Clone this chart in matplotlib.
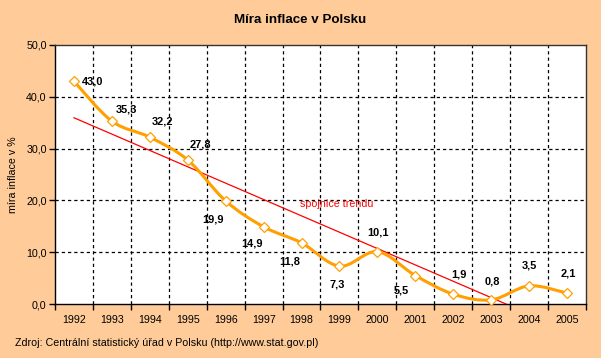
#!/usr/bin/env python3
"""Míra inflace v Polsku 1992-2005, s lineární spojnicí trendu."""
import matplotlib
matplotlib.use("Agg")
import matplotlib.pyplot as plt
import numpy as np
from matplotlib.path import Path
from matplotlib.patches import PathPatch

years = ["1992", "1993", "1994", "1995", "1996", "1997", "1998",
         "1999", "2000", "2001", "2002", "2003", "2004", "2005"]
inflation = [43.0, 35.3, 32.2, 27.8, 19.9, 14.9, 11.8,
             7.3, 10.1, 5.5, 1.9, 0.8, 3.5, 2.1]
y_ticks = [0, 10, 20, 30, 40, 50]

# posun popisků hodnot (px), ručně podle předlohy
label_offsets = [(19, 0), (15, 12), (13, 16), (13, 15), (-13, -19), (-12, -17),
                 (-12, -19), (-2, -18), (1, 19), (-14, -15), (6, 20), (1, 18),
                 (0, 20), (1, 20)]

BG = "#FFCC99"
ORANGE = "#FFA000"
FONT = "Liberation Sans"
plt.rcParams["font.family"] = [FONT, "DejaVu Sans"]


def smooth_path(xs, ys):
    # Excel-like smoothed line: Bezier segments with Catmull-Rom control points
    pts = np.column_stack([xs, ys]).astype(float)
    n = len(pts)
    verts = [pts[0]]
    codes = [Path.MOVETO]
    for i in range(n - 1):
        p0 = pts[i - 1] if i > 0 else pts[i]
        p1, p2 = pts[i], pts[i + 1]
        p3 = pts[i + 2] if i + 2 < n else pts[i + 1]
        c1 = p1 + (p2 - p0) / 6.0
        c2 = p2 - (p3 - p1) / 6.0
        verts += [c1, c2, p2]
        codes += [Path.CURVE4] * 3
    return Path(verts, codes)


fig = plt.figure(figsize=(6.01, 3.58), dpi=100, facecolor=BG)
ax = fig.add_axes([55 / 601, 1 - 304 / 358, 531 / 601, 259 / 358])
ax.set_facecolor("white")

x = np.arange(len(years))
ax.set_xlim(-0.5, len(years) - 0.5)
ax.set_ylim(0, 50)

# trend
k, q = np.polyfit(x, inflation, 1)
ax.plot([0, len(years)], [q, q + k * len(years)], color="#FF0000", lw=0.9, zorder=3)

ax.add_patch(PathPatch(smooth_path(x, inflation), facecolor="none", edgecolor=ORANGE,
                       lw=2.2, capstyle="round", joinstyle="round", zorder=4))
ax.plot(x, inflation, ls="none", marker="D", ms=5.2, mfc="white", mec=ORANGE,
        mew=0.9, zorder=5)

for xi, v, (dx, dy) in zip(x, inflation, label_offsets):
    ax.annotate(f"{v:.1f}".replace(".", ","), (xi, v), xytext=(dx, dy),
                textcoords="offset pixels", ha="center", va="center",
                fontsize=7.9, fontweight="bold", color="black", zorder=6)

ax.annotate("spojnice trendu", (5.95, 19.4), ha="left", va="center",
            fontsize=7.7, color="#FF0000")

# osy a mřížka
ax.set_yticks(y_ticks)
ax.set_yticklabels([f"{t:.1f}".replace(".", ",") for t in y_ticks])
ax.set_xticks(x)
ax.set_xticklabels(years)
ax.set_xticks(np.arange(len(years) + 1) - 0.5, minor=True)
ax.tick_params(axis="x", which="major", length=0, pad=8, labelsize=7.7)
ax.tick_params(axis="x", which="minor", length=4, width=1, color="black")
ax.tick_params(axis="y", length=4, width=1, pad=2, labelsize=7.7)
for yt in y_ticks[1:-1]:
    ax.axhline(yt, color="black", lw=0.9, ls=(0, (2.6, 2.4)), zorder=1)
for xb in np.arange(1, len(years)) - 0.5:
    ax.axvline(xb, color="black", lw=0.9, ls=(0, (2.6, 2.4)), zorder=1)

for side in ("top", "right"):
    ax.spines[side].set_color("#333333")
    ax.spines[side].set_linewidth(1)
for side in ("left", "bottom"):
    ax.spines[side].set_color("black")
    ax.spines[side].set_linewidth(1)

ax.set_ylabel("míra inflace v %", fontsize=7.7, labelpad=6)
fig.text(300 / 601, 1 - 20 / 358, "Míra inflace v Polsku", ha="center", va="center",
         fontsize=9.6, fontweight="bold")
fig.text(15 / 601, 1 - 343 / 358, "Zdroj: Centrální statistický úřad v Polsku (http://www.stat.gov.pl)",
         ha="left", va="center", fontsize=7.7)

fig.savefig("out.png", dpi=100, facecolor=BG)
